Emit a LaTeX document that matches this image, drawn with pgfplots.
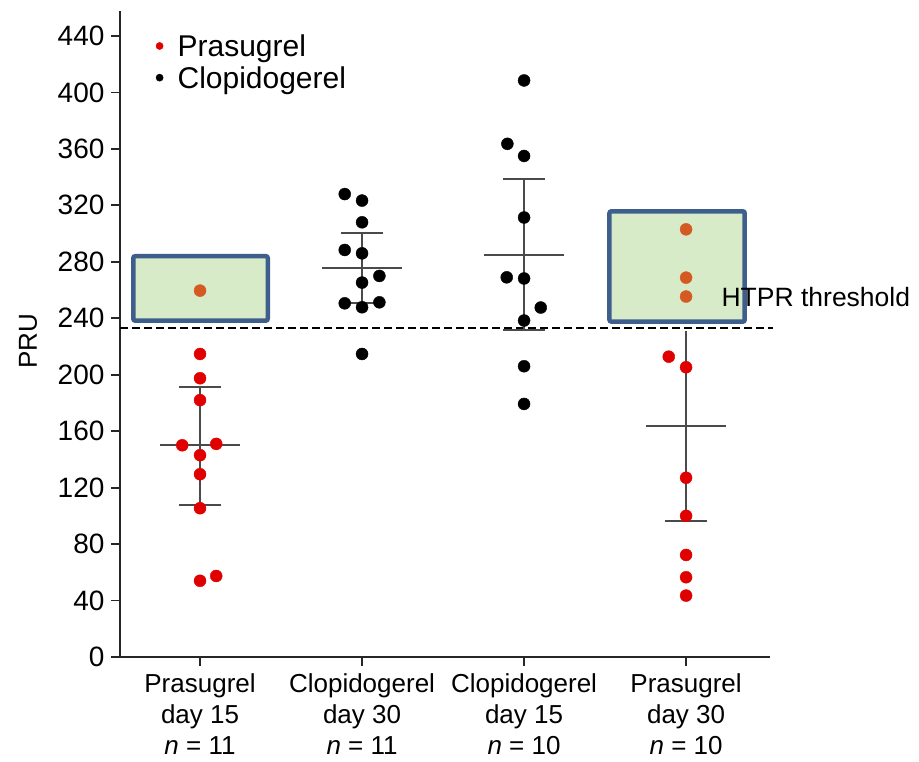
\documentclass[border=0pt]{standalone}
\usepackage{fontspec}
\setmainfont{Liberation Sans}
\usepackage{pgfplots}
\pgfplotsset{compat=1.18}
\definecolor{pred}{HTML}{E00000}
\definecolor{porange}{HTML}{D55A22}
\definecolor{boxfill}{HTML}{D8EBC9}
\definecolor{boxline}{HTML}{3E5E8C}
\definecolor{statline}{HTML}{4A4A4A}
\begin{document}
\begin{tikzpicture}
\path[use as bounding box] (-120pt,-105pt) rectangle (799pt,657pt);
\begin{axis}[
  scale only axis, width=650pt, height=646.4pt,
  xmin=-0.494, xmax=3.518, ymin=0, ymax=458,
  axis x line=bottom, axis y line=left,
  axis line style={-, line width=1.8pt, black!85},
  xtick={0,1,2,3},
  xticklabels={{Prasugrel\\day 15\\\textit{n} = 11},{Clopidogerel\\day 30\\\textit{n} = 11},{Clopidogerel\\day 15\\\textit{n} = 10},{Prasugrel\\day 30\\\textit{n} = 10}},
  ytick={0,40,...,440},
  tick align=outside, major tick length=9pt,
  tick style={line width=1.8pt, black!85},
  clip=false,
  /pgf/number format/assume math mode=true,
  yticklabel style={font=\fontsize{28}{32}\selectfont, xshift=-3pt},
  xticklabel style={align=center, font=\fontsize{26}{31}\selectfont, yshift=-4pt},
  ylabel={PRU},
  ylabel style={font=\fontsize{26}{30}\selectfont, at={(axis description cs:-0.1415,0.488)}, anchor=center},
  legend style={at={(axis description cs:0.0554,0.9677)}, anchor=north west, draw=none, fill=none,
    inner sep=0pt, outer sep=0pt, row sep=2.7pt,
    nodes={inner xsep=0pt, inner ysep=0pt, text height=25pt, text depth=4pt, font=\fontsize{30}{33}\selectfont},
    cells={anchor=west}},
  legend image code/.code={\draw[#1] plot coordinates {(3.6pt,0pt)}; \path[draw=none] (0pt,0pt) (21.6pt,0pt);},
]
\addlegendimage{only marks, mark=*, mark size=3.6pt, color=pred}
\addlegendentry{Prasugrel}
\addlegendimage{only marks, mark=*, mark size=3.6pt, color=black}
\addlegendentry{Clopidogerel}

% green highlight boxes
\addplot[forget plot, fill=boxfill, draw=boxline, line width=4.5pt, rounded corners=2pt]
  coordinates {(-0.412,238.3) (0.418,238.3) (0.418,284.0) (-0.412,284.0)} -- cycle;
\addplot[forget plot, fill=boxfill, draw=boxline, line width=4.5pt, rounded corners=2pt]
  coordinates {(2.527,237.6) (3.362,237.6) (3.362,315.8) (2.527,315.8)} -- cycle;

% threshold
\addplot[forget plot, black, line width=2.6pt, dash pattern=on 8pt off 4pt]
  coordinates {(-0.494,233.1) (3.538,233.1)};

% mean and SD lines
\pgfplotsset{statstyle/.style={forget plot, statline, line width=2pt}}
% group 1
\addplot[statstyle] coordinates {(0,107.7) (0,191)};
\addplot[statstyle] coordinates {(-0.247,150) (0.247,150)};
\addplot[statstyle] coordinates {(-0.13,191) (0.13,191)};
\addplot[statstyle] coordinates {(-0.13,107.7) (0.13,107.7)};
% group 2
\addplot[statstyle] coordinates {(1,250.6) (1,300.3)};
\addplot[statstyle] coordinates {(0.753,275.5) (1.247,275.5)};
\addplot[statstyle] coordinates {(0.87,300.3) (1.13,300.3)};
\addplot[statstyle] coordinates {(0.87,250.6) (1.13,250.6)};
% group 3
\addplot[statstyle] coordinates {(2,232) (2,338.5)};
\addplot[statstyle] coordinates {(1.753,285) (2.247,285)};
\addplot[statstyle] coordinates {(1.87,338.5) (2.13,338.5)};
\addplot[statstyle] coordinates {(1.87,232) (2.13,232)};
% group 4
\addplot[statstyle] coordinates {(3,96.4) (3,231)};
\addplot[statstyle] coordinates {(2.753,163.7) (3.247,163.7)};
\addplot[statstyle] coordinates {(2.87,96.4) (3.13,96.4)};

% points
\addplot[forget plot, only marks, mark=*, mark size=6pt, color=pred] coordinates {
  (0,214.7) (0,197.5) (0,182) (-0.11,150) (0.1,151) (0,143) (0,129.5) (0,105.4) (0,54) (0.1,57.4)
  (2.893,212.8) (3,205.3) (3,127) (3,100) (3,72.3) (3,56.5) (3,43.5)};
\addplot[forget plot, only marks, mark=*, mark size=6pt, color=porange] coordinates {
  (0,259.6) (3,303) (3,268.8) (3,255.4)};
\addplot[forget plot, only marks, mark=*, mark size=6pt, color=black] coordinates {
  (0.893,328) (1,323.4) (1,308) (0.893,288.4) (1,286) (1.107,270) (1,265.3) (0.893,250.6) (1,247.8) (1.107,251.3) (1,214.7)
  (2,408.5) (1.897,363.6) (2,355) (2,311.4) (1.893,269) (2,268.2) (2.103,247.6) (2,238.4) (2,206) (2,179.3)};

\node[anchor=base west, inner sep=0pt, font=\fontsize{26.5}{30}\selectfont] at (axis cs:3.218,248.3) {HTPR threshold};
\end{axis}
\end{tikzpicture}
\end{document}
